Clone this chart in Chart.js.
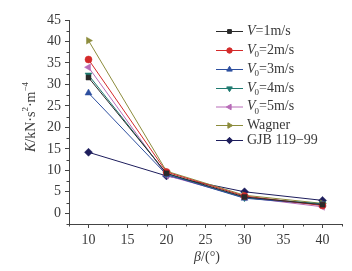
<!DOCTYPE html>
<html>
<head>
<meta charset="utf-8">
<script src="https://cdn.jsdelivr.net/npm/chart.js@4.4.1/dist/chart.umd.min.js"></script>
<style>
  html, body { margin: 0; padding: 0; background: #fff; }
  #wrap { width: 352px; height: 271px; position: relative; }
</style>
</head>
<body>
<div id="wrap"><canvas id="chartK"></canvas></div>
<script>
// data
const betaDeg = [10, 20, 30, 40];
const seriesNames = ['V=1m/s', 'V0=2m/s', 'V0=3m/s', 'V0=4m/s', 'V0=5m/s', 'Wagner', 'GJB 119\u221299'];
const kV1 = [31.6, 9.3, 3.8, 2.0];
const kV2 = [35.8, 9.6, 4.0, 1.8];
const kV3 = [28.0, 9.0, 3.5, 2.0];
const kV4 = [32.2, 9.2, 3.6, 2.2];
const kV5 = [34.0, 8.8, 3.7, 1.5];
const kWagner = [40.2, 9.8, 4.2, 2.3];
const kGJB = [14.2, 8.7, 5.0, 3.0];
const xTicks = [10, 15, 20, 25, 30, 35, 40];
const yTicks = [0, 5, 10, 15, 20, 25, 30, 35, 40, 45];

const colors = ['#2a2a2a', '#d42a2a', '#2d4f9f', '#1f7a70', '#b86cb8', '#8c8c3c', '#1d1d5c'];
const styles = [
  { s: 'rect', r: 0, rad: 3.5 },
  { s: 'circle', r: 0, rad: 3.5 },
  { s: 'triangle', r: 0, rad: 4 },
  { s: 'triangle', r: 180, rad: 4 },
  { s: 'triangle', r: -90, rad: 4 },
  { s: 'triangle', r: 90, rad: 4 },
  { s: 'rectRot', r: 0, rad: 4 }
];
const allK = [kV1, kV2, kV3, kV4, kV5, kWagner, kGJB];

const serif = '"Liberation Serif", "DejaVu Serif", serif';
const textCol = '#3a3a3a';

const datasets = allK.map((vals, i) => ({
  label: seriesNames[i],
  data: betaDeg.map((b, j) => ({ x: b, y: vals[j] })),
  borderColor: colors[i],
  backgroundColor: colors[i],
  borderWidth: 1,
  pointStyle: styles[i].s,
  rotation: styles[i].r,
  pointRadius: styles[i].rad,
  pointBorderWidth: 0.5,
  tension: 0
}));

// minor ticks, axis titles, legend
const extras = {
  id: 'extras',
  afterDraw(chart) {
    const ctx = chart.ctx;
    const xs = chart.scales.x, ys = chart.scales.y;
    ctx.save();
    ctx.strokeStyle = '#444';
    ctx.lineWidth = 1;
    // minor ticks
    for (let v = 7.5; v <= 42.5; v += 5) {
      const px = Math.round(xs.getPixelForValue(v)) + 0.5;
      ctx.beginPath(); ctx.moveTo(px, ys.bottom); ctx.lineTo(px, ys.bottom + 2.5); ctx.stroke();
    }
    for (let v = -2.5; v <= 45; v += 5) {
      const py = Math.round(ys.getPixelForValue(v)) + 0.5;
      ctx.beginPath(); ctx.moveTo(xs.left, py); ctx.lineTo(xs.left - 2.5, py); ctx.stroke();
    }

    ctx.fillStyle = textCol;
    ctx.textBaseline = 'middle';
    // x title
    ctx.font = 'italic 14px ' + serif;
    const xt1 = '\u03b2', xt2 = '/(\u00b0)';
    ctx.textAlign = 'left';
    const w1 = ctx.measureText(xt1).width;
    ctx.font = '14px ' + serif;
    const w2 = ctx.measureText(xt2).width;
    let sx = 207 - (w1 + w2) / 2;
    ctx.font = 'italic 14px ' + serif;
    ctx.fillText(xt1, sx, 257);
    ctx.font = '14px ' + serif;
    ctx.fillText(xt2, sx + w1, 257);

    // y title, rotated
    ctx.save();
    ctx.translate(31, 117);
    ctx.rotate(-Math.PI / 2);
    const parts = [
      { t: 'K', f: 'italic 14px ', dy: 0 },
      { t: '/kN\u00b7s', f: '14px ', dy: 0 },
      { t: '2', f: '9px ', dy: -5 },
      { t: '\u00b7m', f: '14px ', dy: 0 },
      { t: '\u22124', f: '9px ', dy: -5 }
    ];
    let tw = 0;
    parts.forEach(p => { ctx.font = p.f + serif; p.w = ctx.measureText(p.t).width; tw += p.w; });
    let cx = -tw / 2;
    parts.forEach(p => { ctx.font = p.f + serif; ctx.fillText(p.t, cx, p.dy); cx += p.w; });
    ctx.restore();

    // legend
    const rowY = [31, 50, 69, 88, 106.5, 125, 140];
    chart.data.datasets.forEach((ds, i) => {
      const y = rowY[i];
      ctx.strokeStyle = ds.borderColor;
      ctx.lineWidth = 1;
      ctx.beginPath(); ctx.moveTo(216, y + 0.5); ctx.lineTo(243, y + 0.5); ctx.stroke();
      ctx.fillStyle = ds.backgroundColor;
      Chart.helpers.drawPoint(ctx, {
        pointStyle: ds.pointStyle, rotation: ds.rotation, radius: ds.pointRadius - 0.8, borderWidth: 0.5
      }, 229.5, y + 0.5);
      ctx.fillStyle = textCol;
      let tx = 247;
      const name = ds.label;
      if (name.startsWith('V')) {
        ctx.font = 'italic 14px ' + serif;
        ctx.fillText('V', tx, y);
        tx += ctx.measureText('V').width;
        let rest = name.slice(1);
        if (rest.startsWith('0')) {
          ctx.font = '9px ' + serif;
          ctx.fillText('0', tx - 1, y + 5);
          tx += ctx.measureText('0').width - 1;
          rest = rest.slice(1);
        }
        ctx.font = '14px ' + serif;
        ctx.fillText(rest, tx, y);
      } else {
        ctx.font = '14px ' + serif;
        ctx.fillText(name, tx, y);
      }
    });
    ctx.restore();
  }
};

new Chart(document.getElementById('chartK'), {
  type: 'line',
  data: { datasets: datasets },
  options: {
    responsive: true,
    maintainAspectRatio: false,
    animation: false,
    layout: { padding: { top: 20, right: 10, left: 0, bottom: 0 } },
    plugins: { legend: { display: false }, tooltip: { enabled: false } },
    scales: {
      x: {
        type: 'linear',
        min: 7.5,
        max: 42.5,
        afterBuildTicks: s => { s.ticks = xTicks.map(v => ({ value: v })); },
        afterFit: s => { s.height = 47; },
        grid: { drawOnChartArea: false, tickLength: 4, color: '#444' },
        border: { color: '#444', width: 1 },
        ticks: { color: textCol, font: { family: serif, size: 14 }, padding: 4, maxRotation: 0 }
      },
      y: {
        min: -2.5,
        max: 45,
        afterBuildTicks: s => { s.ticks = yTicks.map(v => ({ value: v })); },
        afterFit: s => { s.width = 69; },
        grid: { drawOnChartArea: false, tickLength: 4, color: '#444' },
        border: { color: '#444', width: 1 },
        ticks: { color: textCol, font: { family: serif, size: 14 }, padding: 4 }
      }
    }
  },
  plugins: [extras]
});
</script>
</body>
</html>
